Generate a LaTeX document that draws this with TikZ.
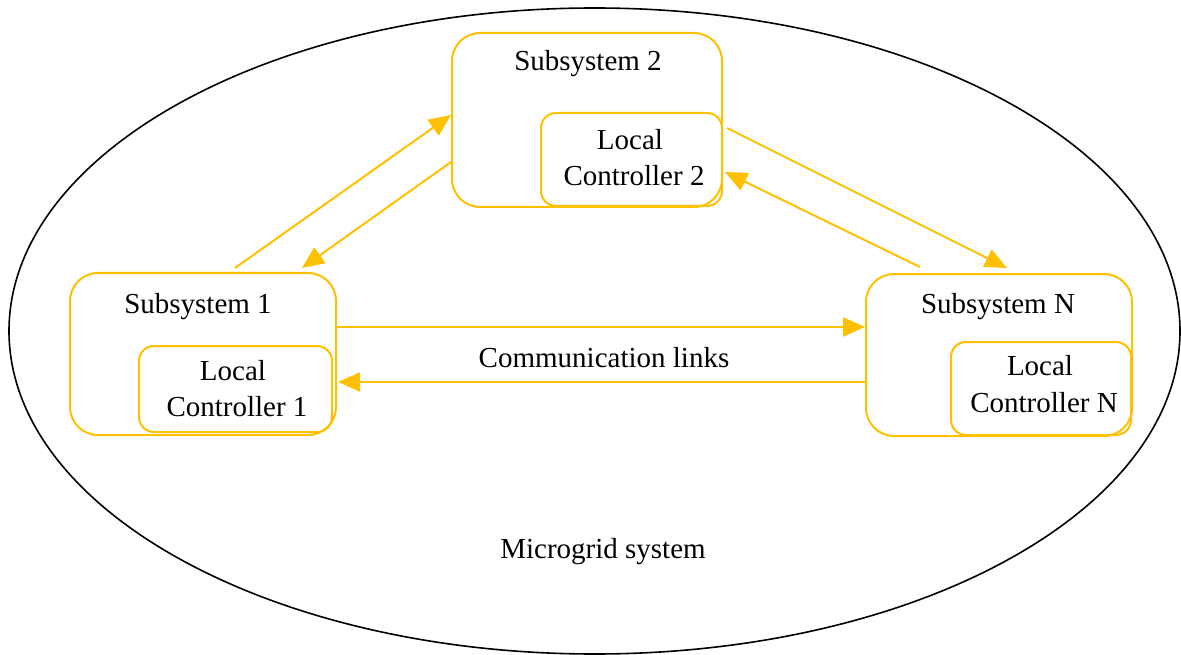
\documentclass[tikz,border=0pt]{standalone}
\usepackage{fontspec}
\setmainfont{Liberation Serif}
\usetikzlibrary{arrows.meta}
\definecolor{gold}{HTML}{FFC000}
\tikzset{
  box/.style={draw=gold, line width=2pt, rounded corners=28pt, anchor=north west, inner sep=0pt, minimum width=#1},
  ctrl/.style={draw=gold, line width=2pt, rounded corners=15pt, anchor=north west, inner sep=0pt, minimum width=#1},
  lbl/.style={anchor=base, inner sep=0pt, font=\fontsize{29}{36}\selectfont},
  link/.style={draw=gold, line width=2pt, -{Triangle[length=22pt,width=19pt]}},
}
\begin{document}
\begin{tikzpicture}[x=1pt,y=-1pt]
\useasboundingbox (0,0) rectangle (1181,655);
\draw[line width=1.6pt] (594.5,331) ellipse [x radius=585.5pt, y radius=323pt];

\node[box=270pt, minimum height=174pt] (s2) at (451,32) {};
\node[ctrl=181pt, minimum height=93pt] (c2) at (540,112) {};
\node[box=266pt, minimum height=162pt] (s1) at (69,272) {};
\node[ctrl=193pt, minimum height=86pt] (c1) at (138,345) {};
\node[box=266pt, minimum height=162pt] (sN) at (865,273) {};
\node[ctrl=180pt, minimum height=93pt] (cN) at (950,341) {};

\node[lbl] (t2) at (588,71) {Subsystem 2};
\node[lbl] (l2a) at (630,150) {Local};
\node[lbl] (l2b) at (634,186) {Controller 2};
\node[lbl] (t1) at (198,313) {Subsystem 1};
\node[lbl] (l1a) at (233,380) {Local};
\node[lbl] (l1b) at (237,416) {Controller 1};
\node[lbl] (tN) at (998,313) {Subsystem N};
\node[lbl] (lNa) at (1040,375) {Local};
\node[lbl] (lNb) at (1044,412) {Controller N};
\node[lbl] (cl) at (604,367) {Communication links};
\node[lbl] (mg) at (603,558) {Microgrid system};

\draw[link] ([xshift=166pt,yshift=4pt]s1.north west) -- ([yshift=-83pt]s2.north west);
\draw[link] ([yshift=-130pt]s2.north west) -- ([xshift=233pt,yshift=4pt]s1.north west);
\draw[link] ([xshift=4pt,yshift=-96pt]s2.north east) -- ([xshift=142pt,yshift=5pt]sN.north west);
\draw[link] ([xshift=55pt,yshift=6pt]sN.north west) -- ([xshift=2pt,yshift=-60pt]c2.north east);
\draw[link] ([yshift=-55pt]s1.north east) -- ([yshift=-54pt]sN.north west);
\draw[link] ([yshift=-109pt]sN.north west) -- ([xshift=1pt,yshift=-110pt]s1.north east);
\end{tikzpicture}
\end{document}
